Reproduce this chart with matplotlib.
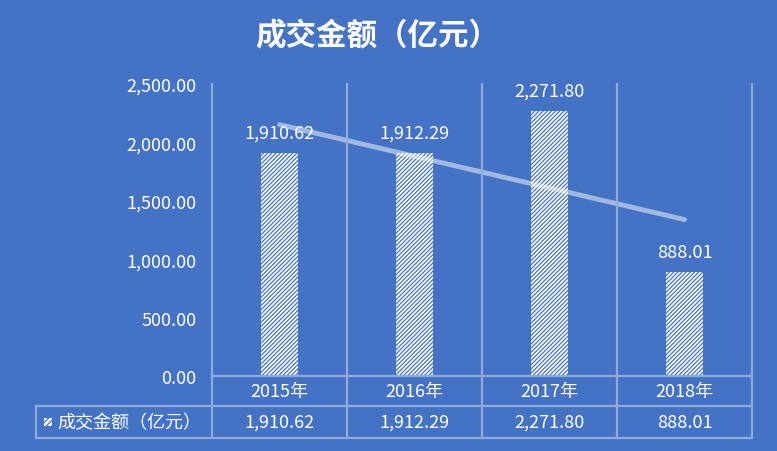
import matplotlib
matplotlib.use("Agg")
import matplotlib.pyplot as plt
import matplotlib.transforms as mtransforms
from matplotlib.patches import Rectangle
from matplotlib.ticker import FuncFormatter

plt.rcParams['font.family'] = ['Noto Sans CJK SC', 'DejaVu Sans']
plt.rcParams['hatch.linewidth'] = 0.9

# 数据
categorias = ["2015年", "2016年", "2017年", "2018年"]
valores = [1910.62, 1912.29, 2271.80, 888.01]
titulo = "成交金额（亿元）"

fundo = "#4472C4"
grade = "#8FAADC"
fs = 13

fig = plt.figure(figsize=(7.77, 4.52), dpi=100, facecolor=fundo)
W, H = 777, 452
ax = fig.add_axes([212 / W, (H - 377) / H, 540 / W, 292 / H])
ax.set_facecolor(fundo)

x = list(range(len(valores)))
ax.bar(x, valores, width=0.27, color="white", edgecolor=fundo,
       linewidth=0, hatch="////////")

# linha de tendência linear
n = len(valores)
mx = sum(x) / n
my = sum(valores) / n
incl = sum((xi - mx) * (yi - my) for xi, yi in zip(x, valores)) / \
    sum((xi - mx) ** 2 for xi in x)
tend = [my + incl * (xi - mx) for xi in x]
ax.plot([x[0], x[-1]], [tend[0], tend[-1]], color="white", alpha=0.5,
        linewidth=3.5, solid_capstyle="round")

for xi, v in zip(x, valores):
    ax.annotate(f"{v:,.2f}", (xi, v), xytext=(0, 8), textcoords="offset points",
                ha="center", va="bottom", color="white", fontsize=fs)

ax.set_xlim(-0.5, 3.5)
ax.set_ylim(0, 2500)
ax.set_yticks([0, 500, 1000, 1500, 2000, 2500])
ax.yaxis.set_major_formatter(FuncFormatter(lambda v, p: f"{v:,.2f}"))
ax.tick_params(axis="y", length=0, pad=11, labelcolor="white", labelsize=fs)
ax.set_xticks([])
for s in ax.spines.values():
    s.set_visible(False)

# grade vertical e tabela de dados
tr = mtransforms.blended_transform_factory(ax.transData, ax.transAxes)
r1 = -30 / 292
r2 = -62 / 292
esq = -0.5 - 176 / 135
lw = 1.6
for b in [-0.5, 0.5, 1.5, 2.5, 3.5]:
    ax.plot([b, b], [1, r2], transform=tr, color=grade, lw=lw, clip_on=False)
ax.plot([-0.5, 3.5], [0, 0], transform=tr, color=grade, lw=lw, clip_on=False)
for yy in [r1, r2]:
    ax.plot([esq, 3.5], [yy, yy], transform=tr, color=grade, lw=lw, clip_on=False)
ax.plot([esq, esq], [r1, r2], transform=tr, color=grade, lw=lw, clip_on=False)

for xi, c, v in zip(x, categorias, valores):
    ax.text(xi, (0 + r1) / 2, c, transform=tr, ha="center", va="center",
            color="white", fontsize=fs)
    ax.text(xi, (r1 + r2) / 2, f"{v:,.2f}", transform=tr, ha="center",
            va="center", color="white", fontsize=fs)

# legenda na tabela
ax.add_patch(Rectangle((esq + 8 / 135, (r1 + r2) / 2 - 4 / 292), 8 / 135, 8 / 292,
                       transform=tr, facecolor="white", edgecolor=fundo,
                       linewidth=0, hatch="//////", clip_on=False))
ax.text(esq + 21 / 135, (r1 + r2) / 2, titulo, transform=tr, ha="left",
        va="center", color="white", fontsize=fs)

fig.text(377 / W, 1 - 36 / H, titulo, ha="center", va="center", color="white",
         fontsize=22, fontweight="bold")

fig.savefig("out.png", dpi=100, facecolor=fundo)
